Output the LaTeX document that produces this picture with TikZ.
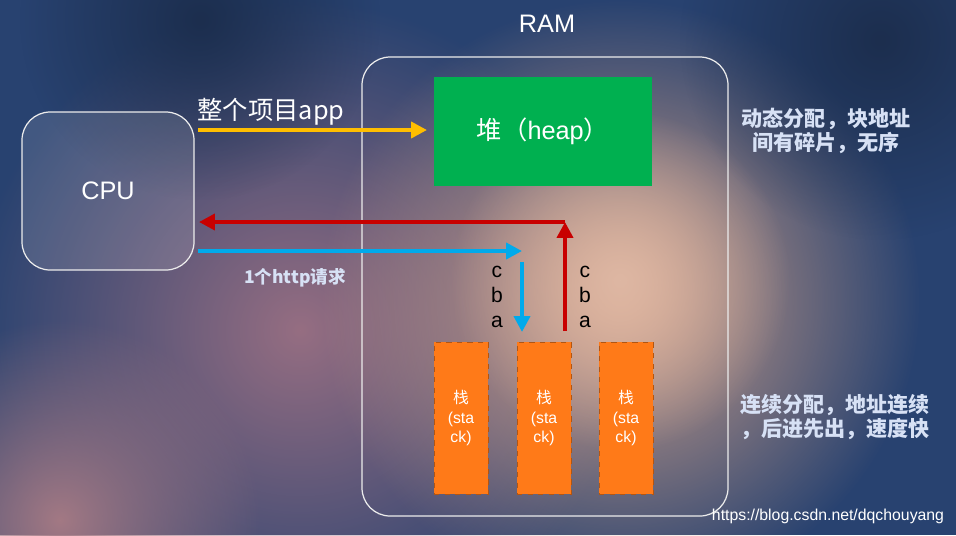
\documentclass[tikz,border=0pt]{standalone}
\usepackage{fontspec}
\setmainfont{Liberation Sans}
\newfontfamily\cjk{Noto Sans CJK SC}
\usetikzlibrary{arrows.meta,fadings}
\tikzfading[name=blob, inner color=transparent!0, outer color=transparent!100]
\definecolor{bgblue}{RGB}{40,66,112}
\definecolor{peach}{RGB}{214,165,140}
\definecolor{mauve}{RGB}{150,110,130}
\definecolor{heapgreen}{RGB}{0,176,80}
\definecolor{stackorange}{RGB}{255,122,24}
\definecolor{arrred}{RGB}{200,0,0}
\definecolor{arrblue}{RGB}{0,170,235}
\definecolor{arryellow}{RGB}{255,190,0}
\definecolor{notecol}{RGB}{215,225,245}
\tikzset{
  box/.style={draw=white!85!gray, line width=0.7pt, rounded corners=16pt},
  stack/.style={fill=stackorange, draw=stackorange!70!black, dashed, line width=0.4pt},
  stacktext/.style={text=white, align=center, font=\small},
  conn/.style={line width=2.2pt, -{Triangle[length=9pt,width=9pt]}},
  note/.style={text=notecol, align=center, font=\cjk\bfseries\large},
  abc/.style={align=center, font=\large, text=black}
}
\begin{document}
\begin{tikzpicture}[x=0.02cm,y=-0.02cm]
\useasboundingbox (0,0) rectangle (956,535);
% background
\fill[bgblue] (0,0) rectangle (956,535);
\begin{scope}
\clip (0,0) rectangle (956,535);
\fill[mauve, path fading=blob] (300,330) circle (330);
\fill[peach, path fading=blob] (620,300) circle (300);
\fill[peach!80!white, path fading=blob] (620,280) circle (170);
\fill[mauve!80!peach, path fading=blob] (60,520) circle (200);
\fill[bgblue!70!black, path fading=blob] (880,40) circle (200);
\fill[bgblue!70!black, path fading=blob] (200,20) circle (180);
\end{scope}
% boxes
\node[box, fill=white, fill opacity=0.12, text opacity=1, minimum width=172*0.02cm, minimum height=158*0.02cm, text=white, font=\Large] (cpu) at (108,191) {CPU};
\draw[box] (362,57) rectangle (728,516);
\node[text=white, font=\Large] (ram) at (547,24) {RAM};
\node[fill=heapgreen, minimum width=218*0.02cm, minimum height=109*0.02cm, text=white, font=\Large] (heap) at (543,131) {{\cjk 堆（}heap{\cjk ）}};
% stacks
\node[stack, minimum width=54*0.02cm, minimum height=152*0.02cm] (s1) at (461,418) {};
\node[stack, minimum width=54*0.02cm, minimum height=152*0.02cm] (s2) at (544,418) {};
\node[stack, minimum width=54*0.02cm, minimum height=152*0.02cm] (s3) at (626,418) {};
\foreach \s in {s1,s2,s3}
  \node[stacktext] at (\s) {{\cjk 栈}\\(sta\\ck)};
% arrows
\coordinate (y0) at (198,130); \coordinate (y1) at (427,130);
\draw[conn, arryellow] (y0) -- (y1);
\node[text=white, font=\cjk\Large] (applbl) at (271,112) {整个项目app};
\coordinate (r0) at (565,331); \coordinate (r1) at (565,222); \coordinate (r2) at (199,222);
\draw[conn, arrred] (r0) -- (r1);
\draw[conn, arrred] (r1) -- (r2);
\coordinate (b0) at (198,251); \coordinate (b1) at (522,251); \coordinate (b2) at (522,262); \coordinate (b3) at (522,332);
\draw[conn, arrblue] (b0) -- (b1);
\draw[conn, arrblue] (b2) -- (b3);
\node[text=notecol, font=\cjk\bfseries] (httplbl) at (295,278) {1个http请求};
\node[abc] (abc1) at (497,297) {c\\b\\a};
\node[abc] (abc2) at (585,297) {c\\b\\a};
% notes
\node[note] (n1) at (826,131) {动态分配，块地址\\间有碎片，无序};
\node[note] (n2) at (835,417) {连续分配，地址连续\\，后进先出，速度快};
\node[text=white, font=\small] (wm) at (828,516) {https://blog.csdn.net/dqchouyang};
\end{tikzpicture}
\end{document}
